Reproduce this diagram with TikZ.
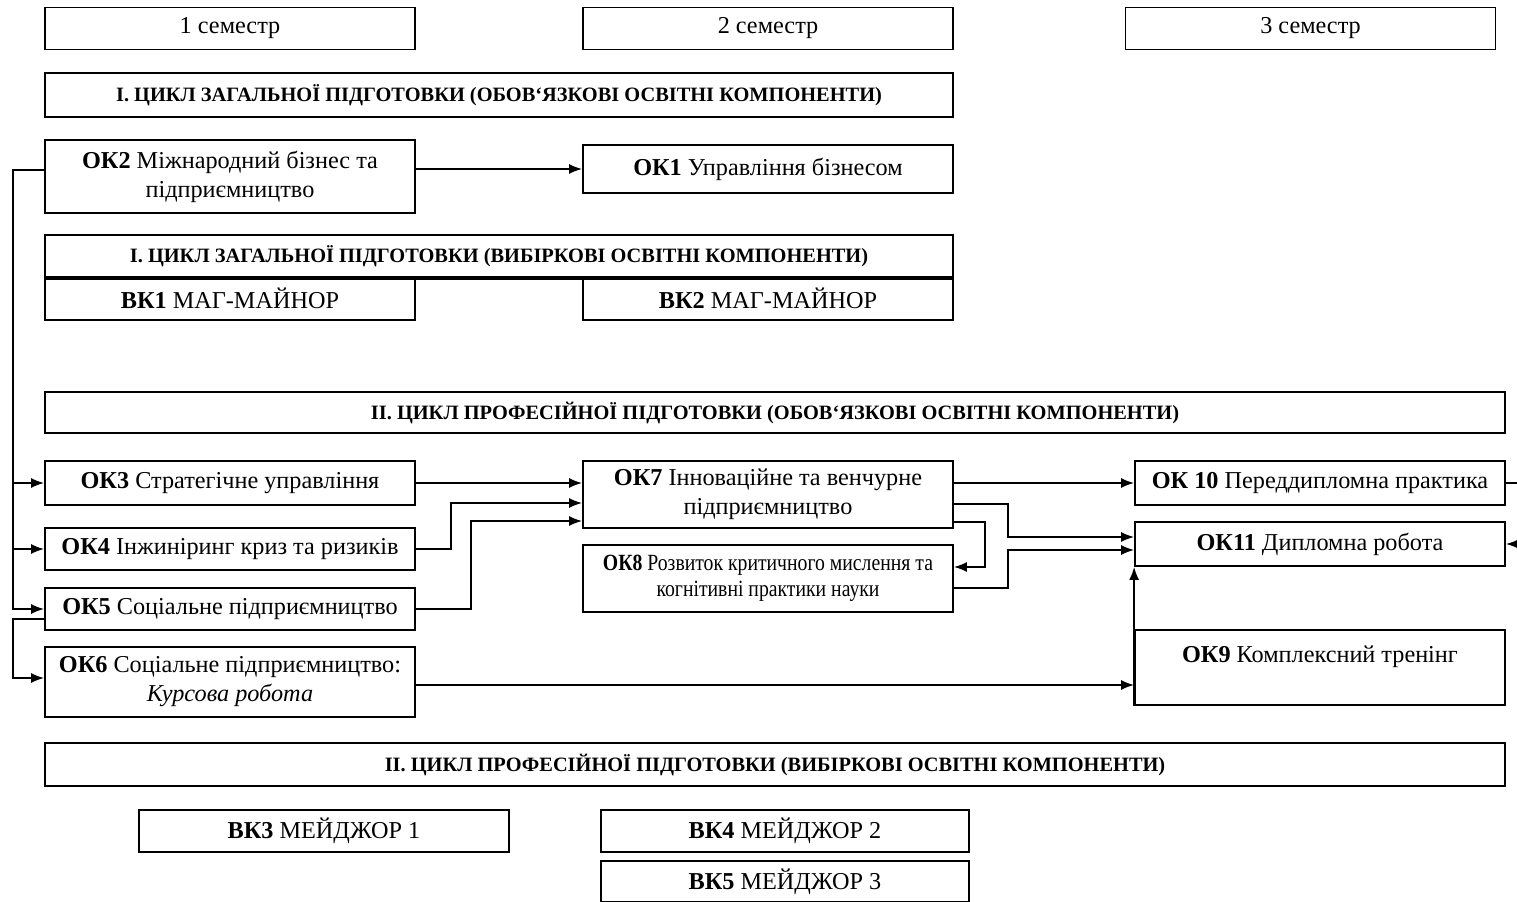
\documentclass[tikz,border=0pt]{standalone}
\usepackage{fontspec}
\setmainfont{Liberation Serif}
\newfontfamily\narrowfont[FakeStretch=0.85]{Liberation Serif}
\usetikzlibrary{arrows.meta}

\begin{document}
\begin{tikzpicture}[
            x = 0.2mm, y = -0.2mm,
            box/.style = {draw, line width = 0.35mm, minimum width = 74mm, minimum height = 8.4mm, inner sep = 0.5mm, align = center, font = \fontsize{13.8}{16.5}\selectfont},
            head/.style = {box, font = \fontsize{11.6}{13}\selectfont\bfseries},
            arr/.style = {draw, line width = 0.35mm, -{Latex[length = 2.6mm, width = 2mm]}},
        ]
        \useasboundingbox (0,0) rectangle (1517,902);

        % semesters
        \node (sem1) [box] at (230, 28.5) {1 семестр};
        \node (sem2) [box] at (768, 28.5) {2 семестр};
        \node (sem3) [box] at (1310.5, 28.5) {3 семестр};

        % cycle I
        \node (cyca) [head, minimum width = 181.6mm, minimum height = 8.8mm] at (499, 95) {І. ЦИКЛ ЗАГАЛЬНОЇ ПІДГОТОВКИ (ОБОВ`ЯЗКОВІ ОСВІТНІ КОМПОНЕНТИ)};
        \node (ok2) [box, minimum height = 14.6mm] at (230, 176.5) {\textbf{ОК2} Міжнародний бізнес та\\ підприємництво};
        \node (ok1) [box, minimum height = 9.6mm] at (768, 169) {\textbf{ОК1} Управління бізнесом};

        \node (cycb) [head, minimum width = 181.6mm] at (499, 256) {І. ЦИКЛ ЗАГАЛЬНОЇ ПІДГОТОВКИ (ВИБІРКОВІ ОСВІТНІ КОМПОНЕНТИ)};
        \node (vk1) [box, minimum height = 8.6mm] at (230, 298.5) {\textbf{ВК1} МАГ-МАЙНОР};
        \node (vk2) [box, minimum height = 8.6mm] at (768, 298.5) {\textbf{ВК2} МАГ-МАЙНОР};
        \path[draw, line width = 0.7mm] (cycb.south west) -- (cycb.south east);

        % cycle II
        \node (cycc) [head, minimum width = 292mm, minimum height = 8.2mm] at (775, 412.5) {ІІ. ЦИКЛ ПРОФЕСІЙНОЇ ПІДГОТОВКИ (ОБОВ`ЯЗКОВІ ОСВІТНІ КОМПОНЕНТИ)};

        \node (ok3) [box, minimum height = 8.8mm] at (230, 483) {\textbf{ОК3} Стратегічне управління};
        \node (ok4) [box] at (230, 549) {\textbf{ОК4} Інжиніринг криз та ризиків};
        \node (ok5) [box] at (230, 609) {\textbf{ОК5} Соціальне підприємництво};
        \node (ok6) [box, minimum height = 14mm] at (230, 682) {\textbf{ОК6} Соціальне підприємництво:\\ \textit{Курсова робота}};

        \node (ok7) [box, minimum height = 13.4mm] at (768, 494.5) {\textbf{ОК7} Інноваційне та венчурне\\ підприємництво};
        \node (ok8) [box, minimum height = 13.4mm, font = \narrowfont\fontsize{13.2}{14.5}\selectfont] at (768, 578.5) {\textbf{ОК8} Розвиток критичного мислення та\\ когнітивні практики науки};

        \node (ok10) [box, minimum height = 8.8mm] at (1320, 483) {\textbf{ОК 10} Переддипломна практика};
        \node (ok11) [box, minimum height = 8.8mm] at (1320, 544) {\textbf{ОК11} Дипломна робота};
        \node (ok9) [box, minimum height = 15mm, text depth = 5.4mm] at (1320, 667.5) {\textbf{ОК9} Комплексний тренінг};

        \node (cycd) [head, minimum width = 292mm, minimum height = 8.6mm] at (775, 764.5) {ІІ. ЦИКЛ ПРОФЕСІЙНОЇ ПІДГОТОВКИ (ВИБІРКОВІ ОСВІТНІ КОМПОНЕНТИ)};
        \node (vk3) [box] at (324, 831) {\textbf{ВК3} МЕЙДЖОР 1};
        \node (vk4) [box, minimum width = 73.6mm] at (785, 831) {\textbf{ВК4} МЕЙДЖОР 2};
        \node (vk5) [box, minimum width = 73.6mm, minimum height = 8.2mm] at (785, 881.5) {\textbf{ВК5} МЕЙДЖОР 3};

        \path[arr] (ok2.east |- ok1.west) -- (ok1.west);

        % bus on the left
        \coordinate (busl) at (13, 400);
        \coordinate (busm) at (13, 650);
        \path[arr] ([yshift = 1.3mm]ok2.west) -| (busl) |- (ok3.west);
        \path[arr] (busl) |- (ok4.west);
        \path[arr] (busl) |- (ok5.west);
        \path[arr] ([yshift = -2mm]ok5.west) -| (busm) |- ([yshift = 0.8mm]ok6.west);

        % into OK7
        \coordinate (mida) at (451, 520);
        \coordinate (midb) at (471, 560);
        \path[arr] (ok3.east) -- (ok3.east -| ok7.west);
        \path[arr] (ok4.east) -| (mida) |- ([yshift = -1.7mm]ok7.west);
        \path[arr] (ok5.east) -| (midb) |- ([yshift = -5.3mm]ok7.west);

        % third semester
        \coordinate (righta) at (1008, 520);
        \coordinate (rightb) at (985, 540);
        \coordinate (rightc) at (1008, 570);
        \path[arr] (ok7.east |- ok10.west) -- (ok10.west);
        \path[arr] ([yshift = -1.9mm]ok7.east) -| (righta) |- ([yshift = 1.4mm]ok11.west);
        \path[arr] ([yshift = -5.5mm]ok7.east) -| (rightb) |- ([yshift = 2.3mm]ok8.east);
        \path[arr] ([yshift = -1.9mm]ok8.east) -| (rightc) |- ([yshift = -1.2mm]ok11.west);
        \path[arr] ([yshift = -0.6mm]ok6.east) -- ([yshift = -0.6mm]ok6.east -| ok9.west);
        \path[arr] (ok9.south west) -- (ok11.south west);
        \path[arr] (ok10.east) -- ++(8mm, 0) |- (ok11.east);
    \end{tikzpicture}
\end{document}
